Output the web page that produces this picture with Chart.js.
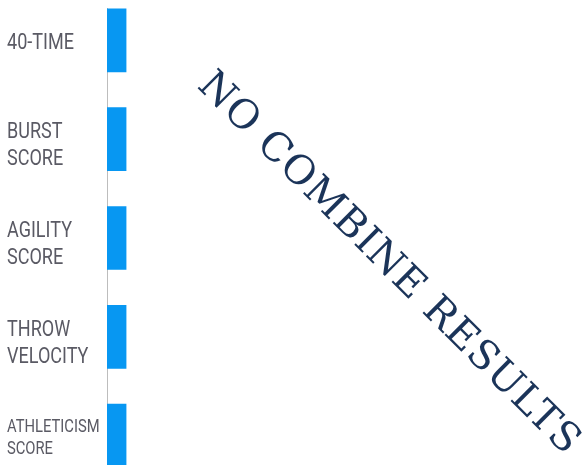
<!DOCTYPE html>
<html>
<head>
<meta charset="utf-8">
<script src="https://cdn.jsdelivr.net/npm/chart.js@4/dist/chart.umd.min.js"></script>
<style>
  html, body { margin: 0; padding: 0; background: #fff; width: 584px; height: 465px; overflow: hidden; }
  #wrap { position: absolute; left: 0; top: 8px; width: 584px; height: 457px; overflow: hidden; }
  #c { position: absolute; left: 0; top: -17px; }
</style>
</head>
<body>
<div id="wrap"><canvas id="c" width="584" height="494"></canvas></div>
<script>
const categories = [
  ['40-TIME'],
  ['BURST', 'SCORE'],
  ['AGILITY', 'SCORE'],
  ['THROW', 'VELOCITY'],
  ['ATHLETICISM', 'SCORE']
];
const scores = [4, 4, 4, 4, 4];
const scaleMax = 100;
const overlayText = 'NO COMBINE RESULTS';

const labelFamily = "Roboto, 'Noto Sans', sans-serif";
const condense = 0.82;

const overlayPlugin = {
  id: 'overlay',
  afterDraw(chart) {
    const { ctx, chartArea } = chart;
    const cx = chartArea.left + (chartArea.right - chartArea.left) * 0.59;
    const cy = chartArea.top + (chartArea.bottom - chartArea.top) * 0.553;
    ctx.save();
    ctx.translate(cx, cy);
    ctx.rotate(Math.PI / 4);
    ctx.font = "40px 'DejaVu Serif'";
    try { ctx.letterSpacing = '1px'; } catch (e) {}
    ctx.fillStyle = '#1b3459';
    ctx.textAlign = 'center';
    ctx.textBaseline = 'middle';
    ctx.fillText(overlayText, 0, 0);
    ctx.restore();
  }
};

new Chart(document.getElementById('c'), {
  type: 'bar',
  data: {
    labels: categories,
    datasets: [{
      data: scores,
      backgroundColor: '#0797f2',
      borderWidth: 0,
      barThickness: 63
    }]
  },
  options: {
    indexAxis: 'y',
    responsive: false,
    animation: false,
    layout: { padding: { left: 7, right: 0, top: 0, bottom: 0 } },
    plugins: { legend: { display: false }, tooltip: { enabled: false } },
    scales: {
      x: { display: false, min: 0, max: scaleMax },
      y: {
        grid: { display: false, drawTicks: false },
        border: { display: true, color: '#bdbdbd', width: 1 },
        ticks: {
          crossAlign: 'far',
          color: '#5a5a64',
          labelOffset: 3,
          font: (ctx) => ({ family: labelFamily, size: ctx.index === 4 ? 18 : 22, lineHeight: ctx.index === 4 ? 1.22 : 1.24 })
        },
        afterFit(scale) {
          scale.width = 100;
          scale.paddingTop = 0;
          scale.paddingBottom = 0;
          if (!scale._condensed) {
            const origItems = scale.getLabelItems.bind(scale);
            scale.getLabelItems = function (area) {
              const items = origItems(area);
              items.forEach((it) => {
                if (!it._adj) {
                  const lines = Array.isArray(it.label) ? it.label.length : 1;
                  if (lines > 1 && it.font && it.font.size >= 22) {
                    it.options.translation[1] += 4;
                  }
                  it._adj = true;
                }
              });
              return items;
            };
            const orig = scale.drawLabels.bind(scale);
            scale.drawLabels = function (area) {
              const c = this.ctx;
              const r = this.right;
              c.save();
              c.translate(this.left, 0);
              c.scale(condense, 1);
              c.translate(-this.left, 0);
              this.right = this.left + (r - this.left) / condense;
              orig(area);
              this.right = r;
              c.restore();
            };
            scale._condensed = true;
          }
        }
      }
    }
  },
  plugins: [overlayPlugin]
});
</script>
</body>
</html>
